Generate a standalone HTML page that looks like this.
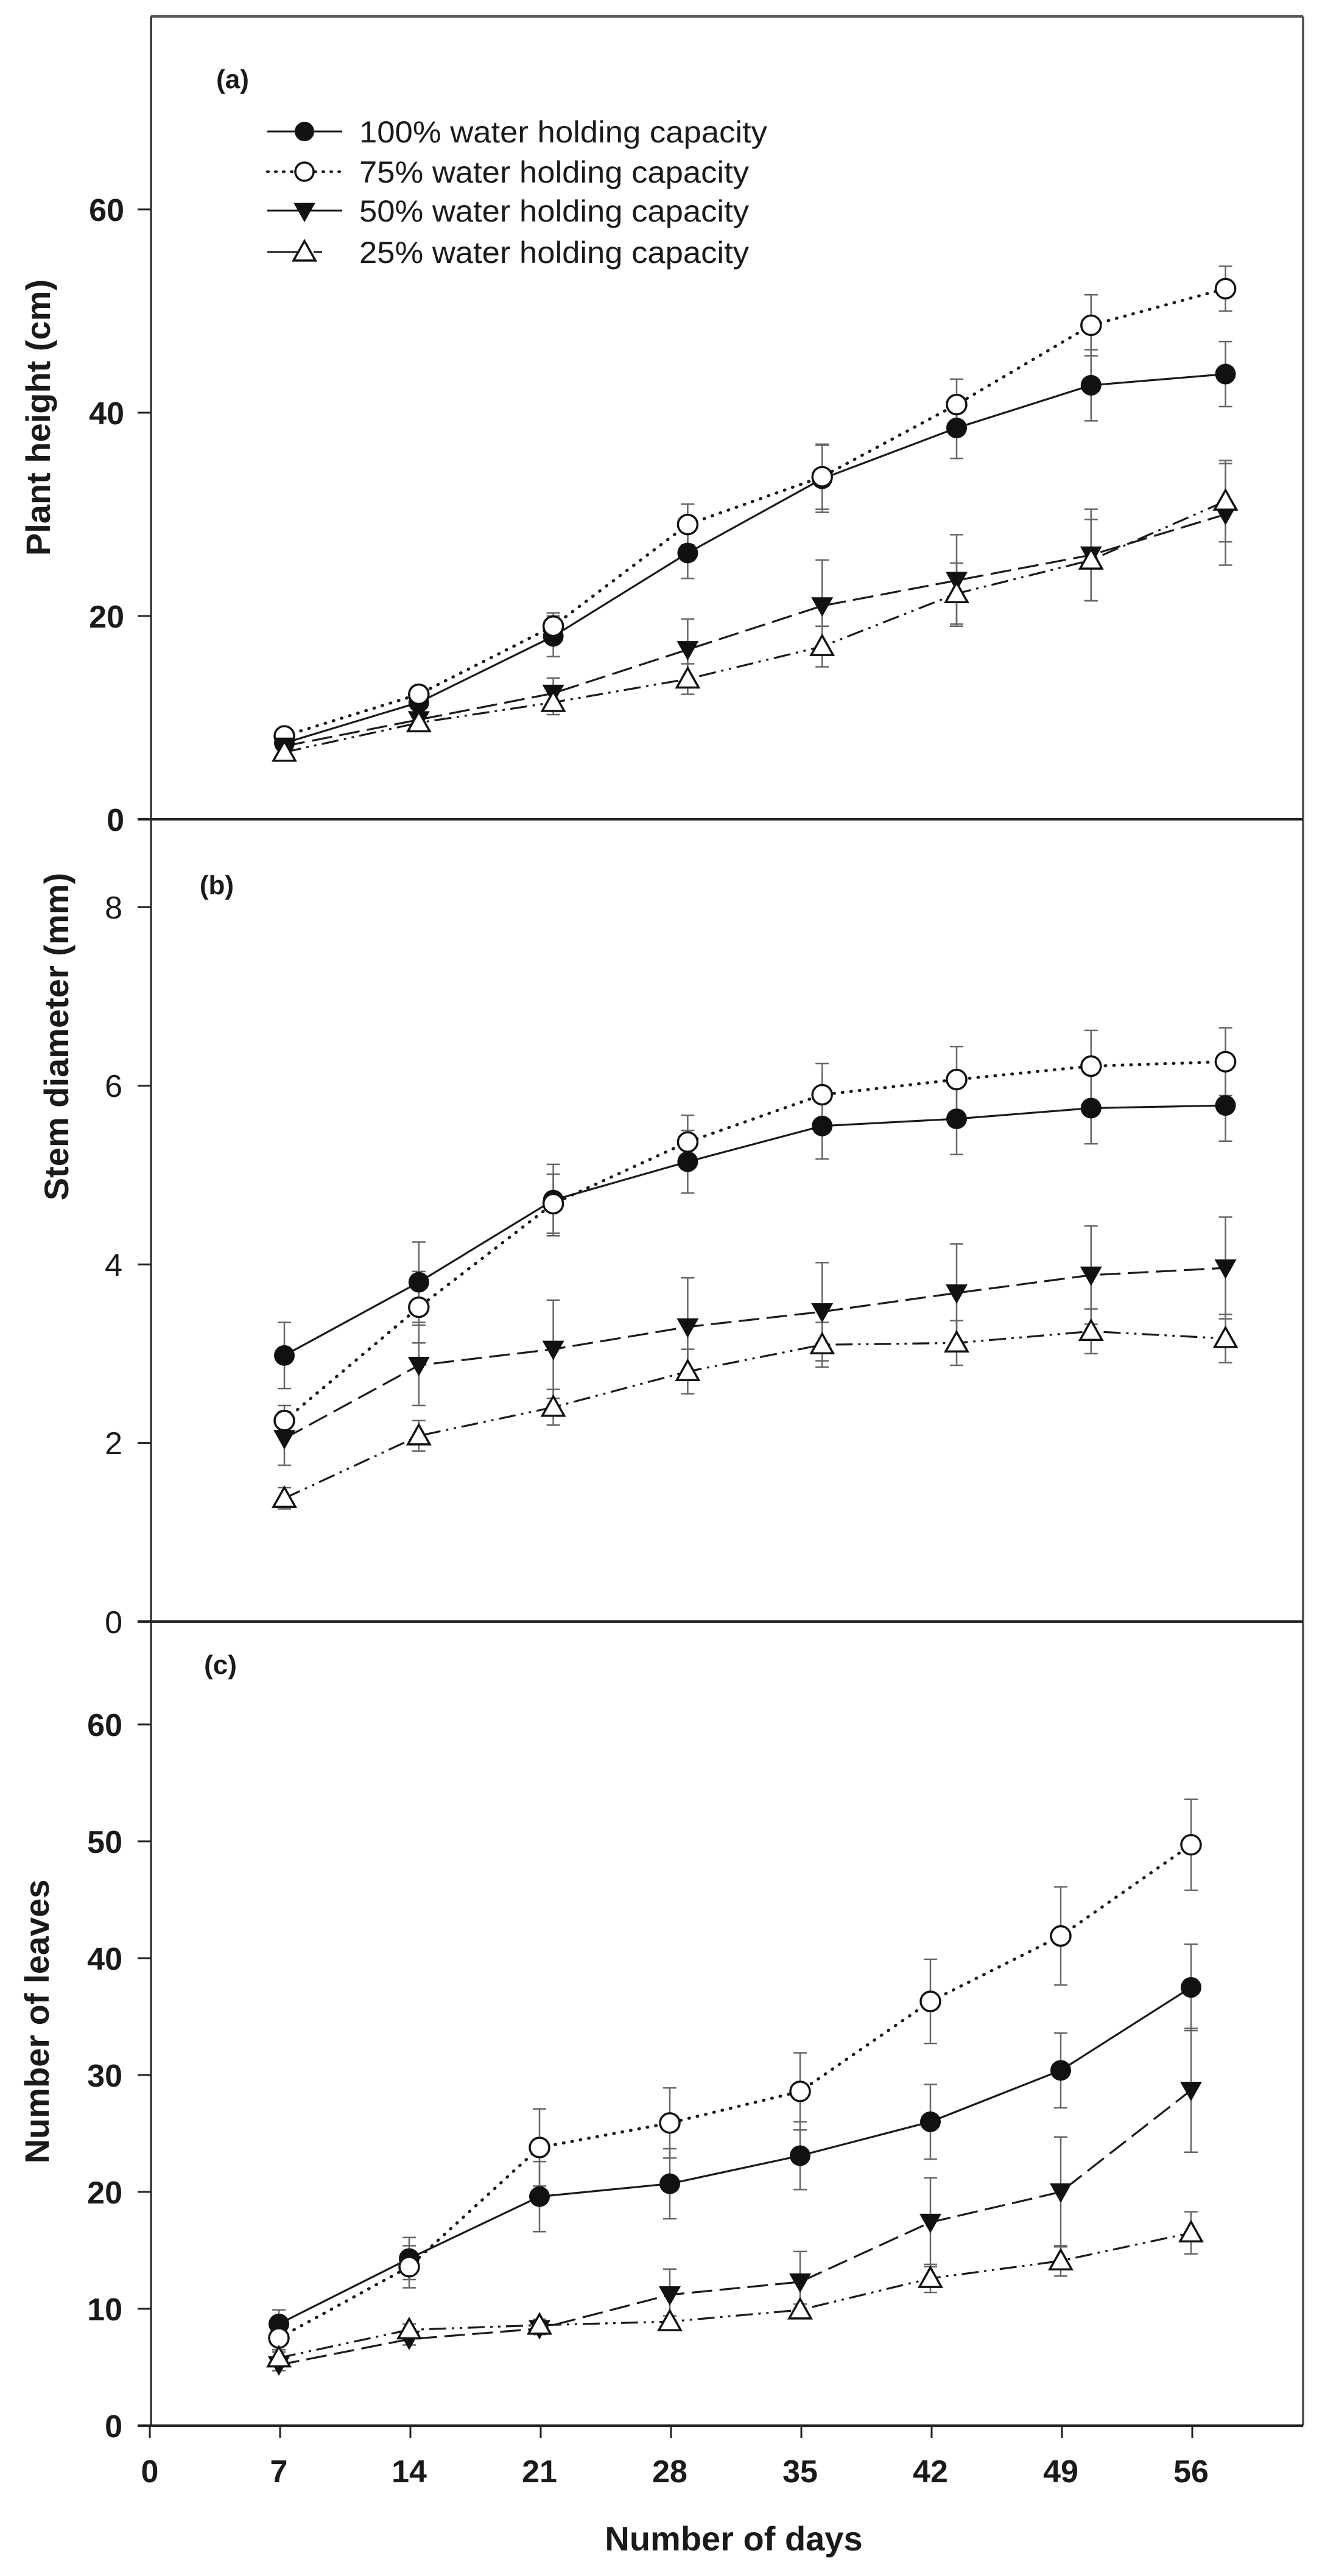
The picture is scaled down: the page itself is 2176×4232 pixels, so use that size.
<!DOCTYPE html>
<html><head><meta charset="utf-8"><style>
html,body{margin:0;padding:0;background:#fff;}
svg{display:block;}
text{font-family:"Liberation Sans",Arial,sans-serif;fill:#1a1a1a;}
.tb{font-weight:bold;font-size:52px;}
.tr{font-size:52px;}
.lab{font-weight:bold;font-size:56px;}
.pl{font-weight:bold;font-size:44px;}
.lg{font-size:50px;}
</style></head><body>
<svg id="s" width="2176" height="4232" viewBox="0 0 2176 4232" xmlns="http://www.w3.org/2000/svg">
<rect x="0" y="0" width="2176" height="4232" fill="#fff"/>
<!-- frame -->
<line x1="248" y1="27" x2="2140" y2="27" stroke="#555" stroke-width="4"/>
<line x1="2140" y1="27" x2="2140" y2="3985" stroke="#555" stroke-width="4"/>
<line x1="248" y1="27" x2="248" y2="3987" stroke="#222" stroke-width="3"/>
<line x1="226" y1="1346" x2="2140" y2="1346" stroke="#222" stroke-width="4"/>
<line x1="226" y1="2664" x2="2140" y2="2664" stroke="#222" stroke-width="4"/>
<line x1="226" y1="3985" x2="2140" y2="3985" stroke="#222" stroke-width="4"/>
<g id="ticks" stroke="#222" stroke-width="3"></g>
<g id="data"></g>

<!-- Panel labels -->
<text class="pl" x="382" y="145" text-anchor="middle">(a)</text>
<text class="pl" x="356" y="1469" text-anchor="middle">(b)</text>
<text class="pl" x="362" y="2750" text-anchor="middle">(c)</text>

<!-- Y labels -->
<text class="lab" transform="translate(82,686) rotate(-90)" text-anchor="middle">Plant height (cm)</text>
<text class="lab" transform="translate(112,1703) rotate(-90)" text-anchor="middle">Stem diameter (mm)</text>
<text class="lab" transform="translate(80,3321) rotate(-90)" text-anchor="middle">Number of leaves</text>

<!-- Panel a tick labels -->
<text class="tb" x="204" y="1365" text-anchor="end">0</text>
<text class="tb" x="204" y="1031" text-anchor="end">20</text>
<text class="tb" x="204" y="697" text-anchor="end">40</text>
<text class="tb" x="204" y="363" text-anchor="end">60</text>
<!-- Panel b tick labels -->
<text class="tr" x="201" y="2683" text-anchor="end">0</text>
<text class="tr" x="201" y="2389" text-anchor="end">2</text>
<text class="tr" x="201" y="2096" text-anchor="end">4</text>
<text class="tr" x="201" y="1802" text-anchor="end">6</text>
<text class="tr" x="201" y="1509" text-anchor="end">8</text>
<!-- Panel c tick labels -->
<text class="tb" x="201" y="4004" text-anchor="end">0</text>
<text class="tb" x="201" y="3812" text-anchor="end">10</text>
<text class="tb" x="201" y="3620" text-anchor="end">20</text>
<text class="tb" x="201" y="3428" text-anchor="end">30</text>
<text class="tb" x="201" y="3236" text-anchor="end">40</text>
<text class="tb" x="201" y="3044" text-anchor="end">50</text>
<text class="tb" x="201" y="2852" text-anchor="end">60</text>
<!-- X tick labels -->
<text class="tb" x="246" y="4078" text-anchor="middle">0</text>
<text class="tb" x="458" y="4078" text-anchor="middle">7</text>
<text class="tb" x="672" y="4078" text-anchor="middle">14</text>
<text class="tb" x="886" y="4078" text-anchor="middle">21</text>
<text class="tb" x="1100" y="4078" text-anchor="middle">28</text>
<text class="tb" x="1314" y="4078" text-anchor="middle">35</text>
<text class="tb" x="1528" y="4078" text-anchor="middle">42</text>
<text class="tb" x="1742" y="4078" text-anchor="middle">49</text>
<text class="tb" x="1956" y="4078" text-anchor="middle">56</text>
<text class="lab" x="1205" y="4190" text-anchor="middle">Number of days</text>

<!-- Legend -->
<g stroke="#1a1a1a" stroke-width="3" fill="none">
<line x1="439" y1="216" x2="562" y2="216"/>
<line x1="439" y1="282" x2="562" y2="282" stroke-dasharray="2 11" stroke-linecap="round" stroke-width="4"/>
<line x1="439" y1="346" x2="562" y2="346"/>
<line x1="439" y1="414" x2="562" y2="414" stroke-dasharray="60 16 14 100"/>
</g>
<circle cx="500" cy="216" r="16" fill="#111"/>
<circle cx="500" cy="282" r="15" fill="#fff" stroke="#111" stroke-width="3.5"/>
<path d="M482,333 L518,333 L500,365 Z" fill="#111"/>
<path d="M500,396 L518,428 L482,428 Z" fill="#fff" stroke="#111" stroke-width="3.5"/>
<text class="lg" x="590" y="234" textLength="670" lengthAdjust="spacingAndGlyphs">100% water holding capacity</text>
<text class="lg" x="590" y="300" textLength="640" lengthAdjust="spacingAndGlyphs">75% water holding capacity</text>
<text class="lg" x="590" y="364" textLength="640" lengthAdjust="spacingAndGlyphs">50% water holding capacity</text>
<text class="lg" x="590" y="432" textLength="640" lengthAdjust="spacingAndGlyphs">25% water holding capacity</text>
</svg>
<script>
(function(){
var NS="http://www.w3.org/2000/svg";
function el(tag,attrs,parent){var e=document.createElementNS(NS,tag);for(var k in attrs)e.setAttribute(k,attrs[k]);parent.appendChild(e);return e;}
var T=document.getElementById('ticks'),D=document.getElementById('data');
// y ticks
[[1346,16.7,[0,20,40,60]],[2664,146.7,[0,2,4,6,8]],[3985,19.2,[0,10,20,30,40,50,60]]].forEach(function(p){
 p[2].forEach(function(v){var y=p[0]-v*p[1];el('line',{x1:226,y1:y,x2:248,y2:y},T);});
});
for(var i=0;i<=8;i++){var x=246+i*214;el('line',{x1:x,y1:3985,x2:x,y2:4005},T);}
var dash={s:null,d:'2 13',l:'34 12',dd:'28 9 4 9 4 9'};
var panels=[
 {y0:1346,k:16.7,xs:function(i){return 467+i*220.8;},
  ser:[
  ['s','c',[7.5,11.5,18,26.2,33.5,38.5,42.7,43.8],[1,1,2,2.5,3.3,3,3.5,3.2]],
  ['d','o',[8.2,12.3,19,29,33.7,40.8,48.6,52.2],[0.5,0.8,1.3,2,3.2,2.5,3,2.2]],
  ['l','v',[7.2,9.8,12.4,16.7,21,23.5,26,30],[0.5,1,1.5,3,4.5,4.5,4.5,5]],
  ['dd','t',[6.6,9.5,11.5,13.8,17,22.2,25.5,31.3],[0.5,0.8,1.2,1.5,2,3,4,4]]]},
 {y0:2664,k:146.7,xs:function(i){return 467+i*220.8;},
  ser:[
  ['s','c',[2.98,3.8,4.72,5.15,5.55,5.63,5.75,5.78],[0.37,0.45,0.4,0.35,0.37,0.4,0.4,0.4]],
  ['d','o',[2.25,3.52,4.68,5.37,5.9,6.07,6.22,6.27],[0.17,0.4,0.33,0.3,0.35,0.37,0.4,0.38]],
  ['l','v',[2.05,2.87,3.05,3.3,3.47,3.68,3.88,3.96],[0.3,0.45,0.55,0.55,0.55,0.55,0.55,0.57]],
  ['dd','t',[1.38,2.08,2.4,2.8,3.1,3.12,3.25,3.17],[0.12,0.17,0.2,0.25,0.25,0.25,0.25,0.27]]]},
 {y0:3985,k:19.2,xs:function(i){return 458+i*214;},
  ser:[
  ['s','c',[8.7,14.3,19.6,20.7,23.1,26,30.4,37.5],[1.2,1.8,3,3,2.9,3.2,3.2,3.7]],
  ['d','o',[7.5,13.6,23.8,25.9,28.6,36.3,41.9,49.7],[1,1.8,3.3,3,3.3,3.6,4.2,3.9]],
  ['l','v',[5.2,7.4,8.3,11.2,12.3,17.4,20,28.7],[0.5,0.5,0.5,2.2,2.6,3.8,4.7,5.3]],
  ['dd','t',[5.8,8.2,8.6,8.9,9.9,12.6,14.1,16.5],[0.5,0.5,0.5,0.5,0.5,1.2,1.3,1.8]]]}
];
panels.forEach(function(P){
 // error bars first
 P.ser.forEach(function(s){
  s[2].forEach(function(v,i){var x=P.xs(i),e=s[3][i]*P.k,y=P.y0-v*P.k;
   var g=el('g',{stroke:'#666','stroke-width':2.5},D);
   el('line',{x1:x,y1:y-e,x2:x,y2:y+e},g);
   el('line',{x1:x-11,y1:y-e,x2:x+11,y2:y-e},g);
   el('line',{x1:x-11,y1:y+e,x2:x+11,y2:y+e},g);
  });
 });
 P.ser.forEach(function(s){
  var pts=s[2].map(function(v,i){return P.xs(i)+','+(P.y0-v*P.k);}).join(' ');
  var a={points:pts,fill:'none',stroke:'#1a1a1a','stroke-width':s[0]=='d'?4:3.2};
  if(s[0]=='d'){a['stroke-dasharray']='1 13';a['stroke-linecap']='round';a['stroke-width']=5;}
  else if(s[0]=='l')a['stroke-dasharray']='34 12';
  else if(s[0]=='dd')a['stroke-dasharray']='28 9 4 9 4 9';
  el('polyline',a,D);
 });
 P.ser.forEach(function(s){
  s[2].forEach(function(v,i){var x=P.xs(i),y=P.y0-v*P.k;
   if(s[1]=='c')el('circle',{cx:x,cy:y,r:17,fill:'#111'},D);
   else if(s[1]=='o')el('circle',{cx:x,cy:y,r:16,fill:'#fff',stroke:'#111','stroke-width':3.5},D);
   else if(s[1]=='v')el('path',{d:'M'+(x-18)+','+(y-14)+' L'+(x+18)+','+(y-14)+' L'+x+','+(y+18)+' Z',fill:'#111'},D);
   else el('path',{d:'M'+x+','+(y-18)+' L'+(x+18)+','+(y+14)+' L'+(x-18)+','+(y+14)+' Z',fill:'#fff',stroke:'#111','stroke-width':3.5},D);
  });
 });
});
})();
</script>
</body></html>
